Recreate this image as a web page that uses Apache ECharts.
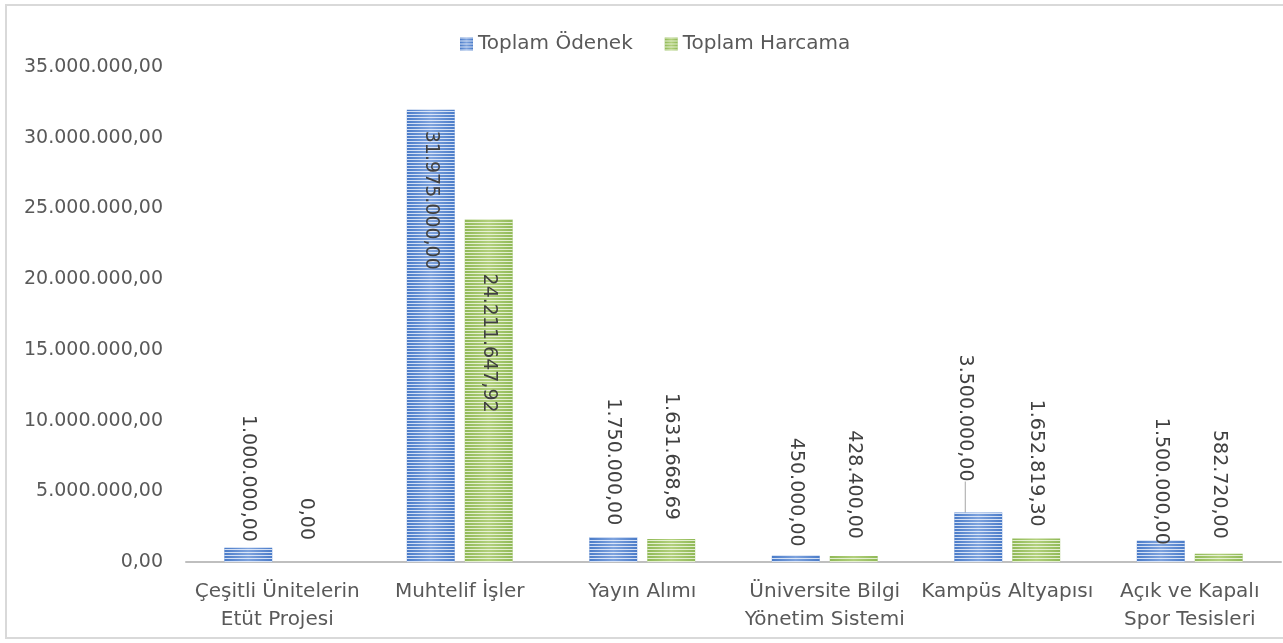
<!DOCTYPE html>
<html>
<head>
<meta charset="utf-8">
<script src="https://cdn.jsdelivr.net/npm/echarts@6/dist/echarts.min.js"></script>
<style>
html,body{margin:0;padding:0;background:#fff;}
#chart{width:1283px;height:643px;}
</style>
</head>
<body>
<div id="chart"></div>
<script>
// ---- data ----
const categories = [
  "Çeşitli Ünitelerin\nEtüt Projesi",
  "Muhtelif İşler",
  "Yayın Alımı",
  "Üniversite Bilgi\nYönetim Sistemi",
  "Kampüs Altyapısı",
  "Açık ve Kapalı\nSpor Tesisleri"
];
const seriesNames = ["Toplam Ödenek", "Toplam Harcama"];
const odenek = [1000000, 31975000, 1750000, 450000, 3500000, 1500000];
const harcama = [0, 24211647.92, 1631668.69, 428400, 1652819.30, 582720];
const yTicks = { min: 0, max: 35000000, interval: 5000000 };

// ---- label placement styles (not data) ----
const odenekLabelPos = ["top", "insideTop", "top", "top", "top", "top"];
const odenekLabelGap = [6, 21, 12, 9, 6, -4];
const harcamaLabelPos = ["top", "insideTop", "top", "top", "top", "top"];
const harcamaLabelGap = [22, 54, 19, 17, 12, 15];

function trFormat(v) {
  const neg = v < 0;
  v = Math.abs(v);
  const fixed = v.toFixed(2);
  let [intPart, dec] = fixed.split(".");
  intPart = intPart.replace(/\B(?=(\d{3})+(?!\d))/g, ".");
  return (neg ? "-" : "") + intPart + "," + dec;
}

const FONT = "DejaVu Sans";

function makeItems(values, pos, gap, leaderIdx) {
  return values.map((v, i) => {
    const inside = pos[i] === "insideTop";
    const item = {
      value: v,
      label: {
        position: pos[i],
        distance: gap[i],
        align: inside ? "left" : "right",
        verticalAlign: "middle"
      }
    };
    if (i === leaderIdx) {
      item.labelLine = { show: true, lineStyle: { color: "#a6a6a6", width: 1 } };
    }
    return item;
  });
}

function barStyle(edge, center, stripe) {
  return {
    color: {
      type: "linear", x: 0, y: 0, x2: 1, y2: 0,
      colorStops: [
        { offset: 0, color: edge },
        { offset: 0.5, color: center },
        { offset: 1, color: edge }
      ]
    },
    decal: {
      symbol: "rect",
      symbolSize: 1,
      color: stripe,
      dashArrayX: [1, 0],
      dashArrayY: [1, 2],
      rotation: 0
    }
  };
}

const labelBase = {
  show: true,
  rotate: -90,
  color: "#404040",
  fontFamily: FONT,
  fontSize: 19,
  formatter: p => trFormat(p.value)
};

const chart = echarts.init(document.getElementById("chart"), null, { renderer: "canvas" });
chart.setOption({
  backgroundColor: "#ffffff",
  animation: false,
  graphic: [{
    type: "rect",
    shape: { x: 6, y: 5, width: 1290, height: 633 },
    style: { fill: "none", stroke: "#d9d9d9", lineWidth: 2 },
    silent: true,
    z: -1
  }],
  legend: {
    top: 29,
    left: 455,
    itemWidth: 13,
    itemHeight: 13,
    itemGap: 32,
    icon: "rect",
    textStyle: { color: "#595959", fontFamily: FONT, fontSize: 20 },
    data: seriesNames
  },
  grid: { left: 186, right: 2, top: 67, bottom: 81, containLabel: false },
  xAxis: {
    type: "category",
    data: categories,
    axisLine: { show: true, lineStyle: { color: "#bfbfbf", width: 2 } },
    axisTick: { show: false },
    axisLabel: {
      interval: 0,
      color: "#595959",
      fontFamily: FONT,
      fontSize: 20,
      lineHeight: 28,
      margin: 16
    }
  },
  yAxis: {
    type: "value",
    min: yTicks.min,
    max: yTicks.max,
    interval: yTicks.interval,
    axisLine: { show: false },
    axisTick: { show: false },
    splitLine: { show: false },
    axisLabel: {
      color: "#595959",
      fontFamily: FONT,
      fontSize: 19,
      margin: 23,
      formatter: v => trFormat(v)
    }
  },
  series: [
    {
      name: seriesNames[0],
      type: "bar",
      barGap: "21%",
      barCategoryGap: "42%",
      itemStyle: barStyle("#4a7bc8", "#7ea3de", "rgba(235,241,251,0.85)"),
      label: labelBase,
      labelLine: { show: false },
      labelLayout: function (p) {
        if (p.dataIndex === 4) return { dx: -25, dy: 13 };
        return {};
      },
      data: makeItems(odenek, odenekLabelPos, odenekLabelGap, 4)
    },
    {
      name: seriesNames[1],
      type: "bar",
      barGap: "21%",
      barCategoryGap: "42%",
      itemStyle: barStyle("#90b957", "#b2d07c", "rgba(240,247,228,0.85)"),
      label: labelBase,
      data: makeItems(harcama, harcamaLabelPos, harcamaLabelGap, -1)
    }
  ]
});
</script>
</body>
</html>
